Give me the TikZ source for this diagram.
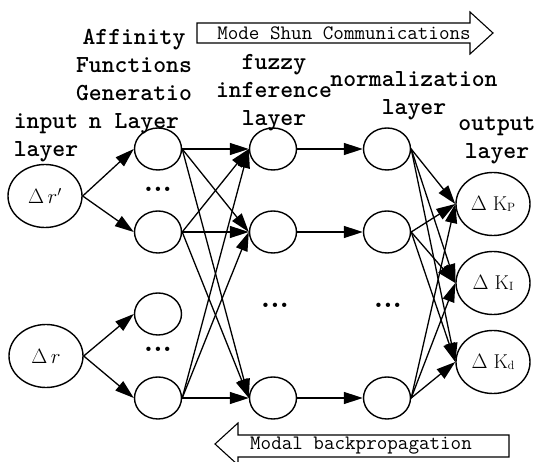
\documentclass[tikz,border=0pt]{standalone}
\usepackage{fontspec}
\usetikzlibrary{arrows.meta,shapes.geometric}

\def\lblfont{\ttfamily\bfseries\fontsize{24.5}{28}\selectfont}
\def\bandfont{\ttfamily\fontsize{20.5}{22}\selectfont}
\newcommand{\ksub}[1]{\raisebox{-1.5pt}{\fontsize{12}{13}\selectfont #1}}

\tikzset{
  neuron/.style={draw, ellipse, line width=1.4pt, inner sep=0pt,
                 minimum width=47pt, minimum height=42pt},
  ionode/.style={neuron, minimum width=74pt, minimum height=63pt,
                 font=\fontsize{20}{22}\selectfont},
  laylabel/.style={align=center, inner sep=0pt, font=\lblfont},
  etc/.style={inner sep=0pt, font=\bfseries\fontsize{30}{30}\selectfont},
  band/.style={line width=1.1pt, fill=white},
}

\begin{document}
\begin{tikzpicture}[x=1pt, y=-1pt, line width=1.3pt,
                    >={Triangle[length=19pt,width=12pt]}, line cap=round
                   ]
    \clip (0,0) rectangle (536,462);

    % layer labels
    \node [laylabel] (lin)  at (46,138)  {input\\layer};
    \node [laylabel] (laf)  at (134,82)  {Affinity\\Functions\\Generatio\\n Layer};
    \node [laylabel] (lfz)  at (274,93)  {fuzzy\\inference\\layer};
    \node [laylabel] (lnm)  at (414,96)  {normalization\\layer};
    \node [laylabel] (lout) at (497,140) {output\\layer};

    % input layer
    \node [ionode] (in1) at (45,196) {$\Delta\,r'$};
    \node [ionode] (in2) at (46,356) {$\Delta\,r$};

    % affinity functions generation layer
    \node [neuron] (a1) at (158,149) {};
    \node [neuron] (a2) at (158,232) {};
    \node [neuron] (a3) at (158,314) {};
    \node [neuron] (a4) at (158,398) {};
    \node [etc] (da1) at (158,189) {...};
    \node [etc] (da2) at (158,349) {...};

    % fuzzy inference layer
    \node [neuron] (f1) at (273,149) {};
    \node [neuron] (f2) at (273,232) {};
    \node [neuron] (f4) at (273,398) {};
    \node [etc] (df) at (275,305) {...};

    % normalization layer
    \node [neuron] (n1) at (387,149) {};
    \node [neuron] (n2) at (387,232) {};
    \node [neuron] (n4) at (387,398) {};
    \node [etc] (dn) at (388,305) {...};

    % output layer
    \node [ionode] (kp) at (493,204) {$\Delta$ K\ksub{P}};
    \node [ionode] (ki) at (493,283) {$\Delta$ K\ksub{I}};
    \node [ionode] (kd) at (493,362) {$\Delta$ K\ksub{d}};

    \draw [->] (in1.east) -- (a1.west);
    \draw [->] (in1.east) -- (a2.west);
    \draw [->] (in2.east) -- (a3.west);
    \draw [->] (in2.east) -- (a4.west);

    \foreach \s in {a1,a2,a4}{
        \foreach \t in {f1,f2,f4}
            \draw [->] (\s.east) -- (\t.west);
    }
    \foreach \k in {1,2,4}
        \draw [->] (f\k) -- (n\k);
    \foreach \s in {n1,n2,n4}{
        \foreach \t in {kp,ki,kd}
            \draw [->] (\s.east) -- (\t.west);
    }

    % forward / backward bands
    \draw [band] (197,23) -- (470,23) -- (470,12) -- (493,33)
        -- (470,54) -- (470,43) -- (197,43) -- cycle;
    \node [font=\bandfont, inner sep=0pt] (fwd) at (344,33) {Mode Shun Communications};
    \draw [band] (509,435) -- (238,435) -- (238,423) -- (215,444)
        -- (238,465) -- (238,457) -- (509,457) -- cycle;
    \node [font=\bandfont, inner sep=0pt] (bwd) at (361,446) {Modal backpropagation};
\end{tikzpicture}
\end{document}
